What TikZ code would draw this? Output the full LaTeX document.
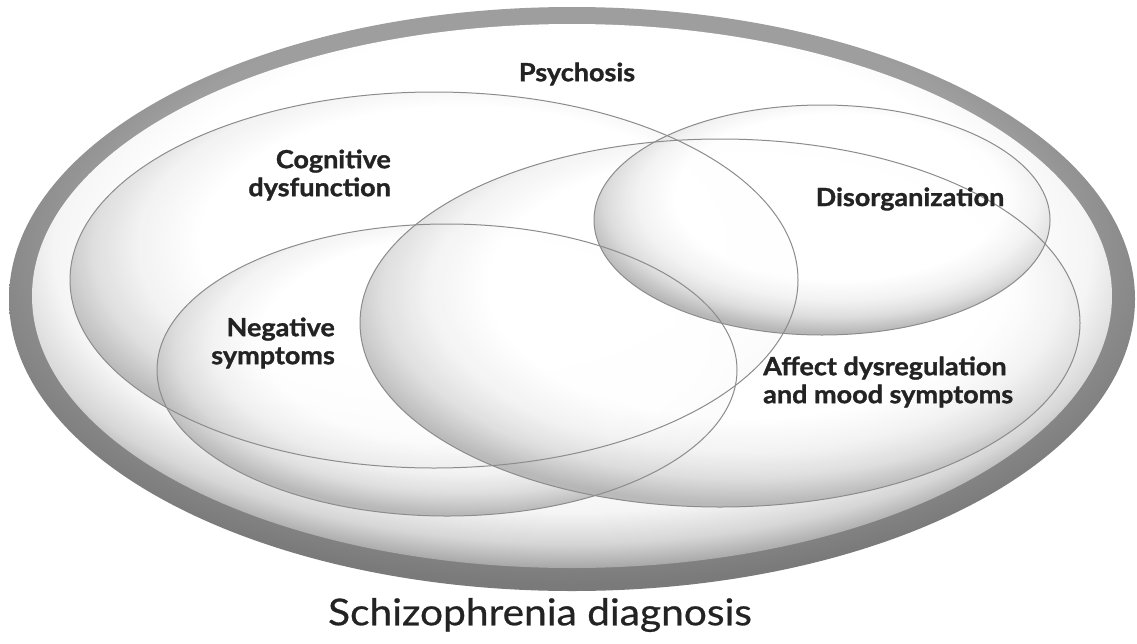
\documentclass[tikz,border=0pt]{standalone}
\usepackage{fontspec}
\setmainfont{Lato}[FakeStretch=1.1]
\newfontfamily\heavyfont{Lato}[FakeStretch=1.08, BoldFeatures={FakeBold=1.2}]
\newfontfamily\captfont{Lato}[FakeStretch=1.1, FakeBold=0.6]
\definecolor{ringgray}{HTML}{9E9E9E}
\definecolor{ringdark}{HTML}{7A7A7A}
\definecolor{linegray}{HTML}{8C8C8C}
\definecolor{txtgray}{HTML}{232323}
\definecolor{rimA}{HTML}{F2F2F2}
\definecolor{rimB}{HTML}{DCDCDC}
\definecolor{rimC}{HTML}{B4B4B4}
\definecolor{bowlA}{HTML}{F5F5F5}
\definecolor{bowlB}{HTML}{D6D6D6}
\definecolor{bowlC}{HTML}{A6A6A6}
\pgfdeclareradialshading{lens}{\pgfpoint{3bp}{8bp}}{color(0bp)=(white); color(18bp)=(white); color(22bp)=(rimA); color(25bp)=(rimB); color(28bp)=(rimC); color(50bp)=(rimC)}
\pgfdeclareradialshading{bowl}{\pgfpoint{0bp}{8bp}}{color(0bp)=(white); color(20bp)=(white); color(24bp)=(bowlA); color(26.5bp)=(bowlB); color(28.5bp)=(bowlC); color(50bp)=(bowlC)}
\pgfdeclareradialshading{ringshade}{\pgfpoint{0bp}{8bp}}{color(0bp)=(ringgray); color(21bp)=(ringgray); color(28bp)=(ringdark); color(50bp)=(ringdark)}
\tikzset{
  lensfill/.style={shading=lens, fill opacity=#1},
  lensfill/.default=0.9,
  outline/.style={draw=linegray, line width=1pt},
  lbl/.style={font=\heavyfont\bfseries\fontsize{25}{28}\selectfont, text=txtgray, inner sep=0pt},
  capt/.style={font=\captfont\fontsize{37}{40}\selectfont, text=txtgray, inner sep=0pt}
}
\begin{document}
\begin{tikzpicture}[x=1pt,y=-1pt]
\useasboundingbox (0,0) rectangle (1137,643);
% outer ring (diagnosis)
\shade[shading=ringshade] (572,299) ellipse [x radius=563pt, y radius=292pt];
\shade[shading=bowl] (572,296) ellipse [x radius=540pt, y radius=272pt];
% inner ellipses
\shade[lensfill=0.92] (434,280) ellipse [x radius=364pt, y radius=188pt];
\shade[lensfill=0.9] (447,370) ellipse [x radius=290pt, y radius=146pt];
\shade[lensfill=0.9] (720,323) ellipse [x radius=360pt, y radius=184pt];
\shade[lensfill=0.95] (822,220) ellipse [x radius=228pt, y radius=115pt];
% outlines
\draw[outline] (434,280) ellipse [x radius=364pt, y radius=188pt];
\draw[outline] (447,370) ellipse [x radius=290pt, y radius=146pt];
\draw[outline] (720,323) ellipse [x radius=360pt, y radius=184pt];
\draw[outline] (822,220) ellipse [x radius=228pt, y radius=115pt];
% labels
\node[lbl] (psy) at (577,74) {Psychosis};
\node[lbl, align=right, anchor=east] (cog) at (391,175) {Cognitive\\dysfunction};
\node[lbl] (dis) at (910,199) {Disorganization};
\node[lbl, align=right, anchor=east] (neg) at (335,343) {Negative\\symptoms};
\node[lbl, align=left, anchor=west] (aff) at (763,382) {Affect dysregulation\\and mood symptoms};
\node[capt] (diag) at (540,615) {Schizophrenia diagnosis};
\end{tikzpicture}
\end{document}
